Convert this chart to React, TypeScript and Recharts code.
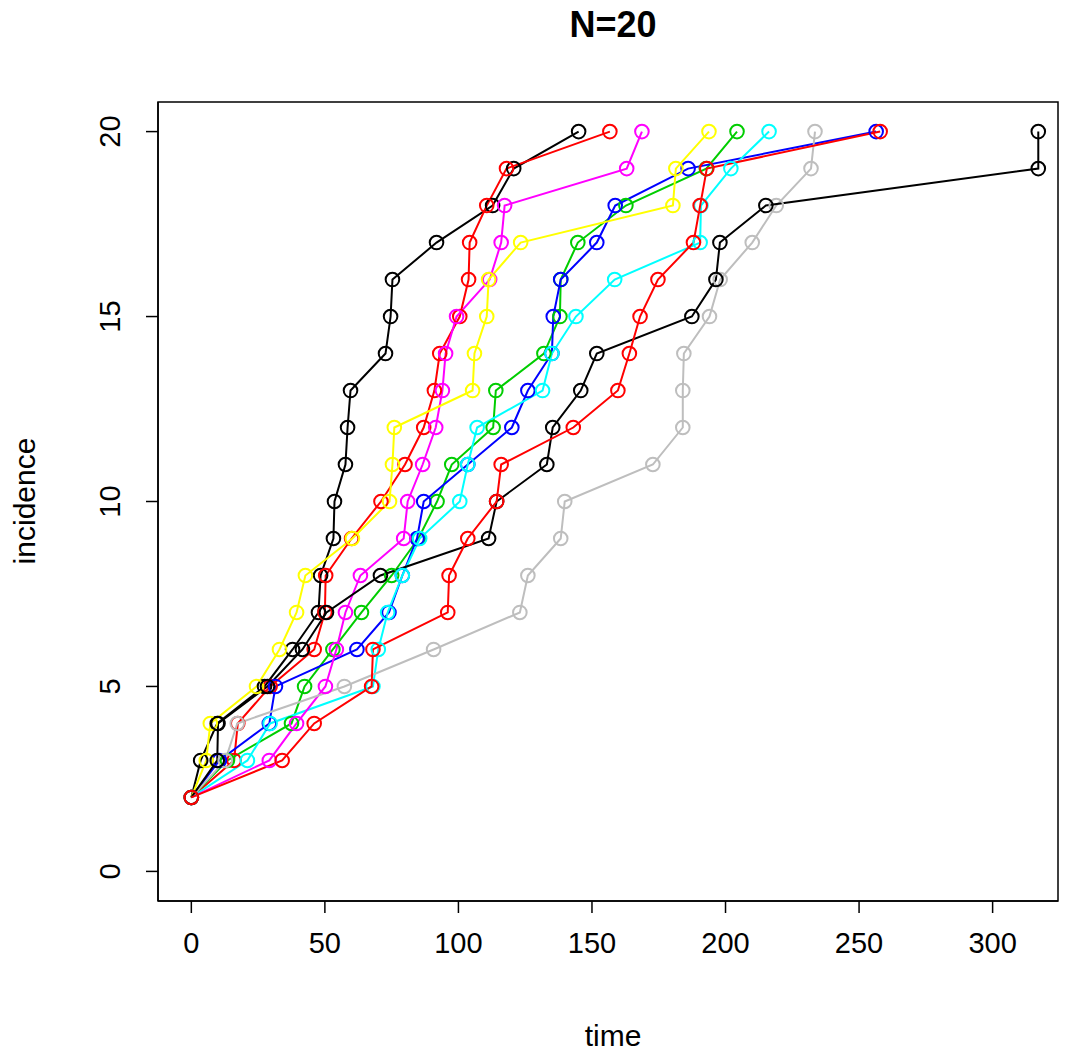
import React from "react";
import { LineChart, Line, XAxis, YAxis, ReferenceArea } from "recharts";

const incidence = [2, 3, 4, 5, 6, 7, 8, 9, 10, 11, 12, 13, 14, 15, 16, 17, 18, 19, 20];

const blackA = [0, 3.5, 9.7, 27.4, 37.9, 47.6, 48.4, 53.2, 53.6, 57.7, 58.5, 59.6, 72.7, 74.6, 75.3, 91.8, 112.8, 120.7, 145.0];
const redA = [0, 16, 17.4, 29.5, 46, 50, 50.3, 60, 71, 80, 87, 91, 93, 100.5, 103.8, 104.2, 110.6, 118, 156.7];
const green = [0, 13.5, 37.5, 42.4, 53, 63.7, 75, 85, 92, 97.5, 113, 114, 132, 138, 138.3, 144.7, 162.7, 192.8, 204.3];
const blue = [0, 10.5, 29.2, 31.5, 62, 74, 79, 84.5, 87, 103.5, 120, 126, 135, 135.5, 138.3, 151.8, 158.7, 186, 256.4];
const cyan = [0, 21, 29.5, 68, 70, 73.5, 79, 85.5, 100.5, 103.5, 107, 131.5, 135, 144, 158.5, 190.5, 190.8, 202, 216.3];
const magenta = [0, 29.2, 39.4, 50.2, 54.3, 57.7, 63.3, 79.5, 81, 86.6, 91.5, 94, 95.2, 99.3, 111.7, 116, 117.3, 163, 168.7];
const yellow = [0, 5.6, 7.1, 24.4, 33, 39.4, 42.7, 60.3, 74.2, 75.3, 76, 105.3, 106, 110.6, 111.3, 123.3, 180.3, 181.4, 193.8];
const gray = [0, 12.7, 17.2, 57.3, 90.7, 123, 126, 138.3, 139.8, 172.8, 184, 184, 184.4, 194, 198, 210, 219, 232, 233.5];
const blackB = [0, 9.7, 10, 28.5, 41.6, 50.6, 70.8, 111.3, 114.3, 133.1, 135.3, 145.8, 151.8, 187.4, 196.4, 197.9, 215.1, 317.1, 317.1];
const redB = [0, 34, 46, 67.5, 68, 96, 96.5, 103.5, 114.3, 116, 143, 159.7, 164, 168, 174.7, 188, 190.5, 193, 257.9];

const seriesTimes = [blackA, redA, green, blue, cyan, magenta, yellow, gray, blackB, redB];
const seriesColors = ["#000000", "#FF0000", "#00CD00", "#0000FF", "#00FFFF", "#FF00FF", "#FFFF00", "#BEBEBE", "#000000", "#FF0000"];

const xTicks = [0, 50, 100, 150, 200, 250, 300];
const yTicks = [0, 5, 10, 15, 20];
const xDomain = [-12.48, 324.48];
const yDomain = [-0.8, 20.8];

const titleText = "N=20";
const xLabel = "time";
const yLabel = "incidence";

const FONT = "'Liberation Sans', Arial, Helvetica, sans-serif";
const TICK_FONT = 29;

const makeSeries = (times: number[]) => times.map((t, i) => ({ t, y: incidence[i] }));

const XTick = (props: any) => {
  const { x, y, payload } = props;
  return (
    <text x={x} y={y} textAnchor="middle" dominantBaseline="central" fontSize={TICK_FONT} fontFamily={FONT} fill="#000">
      {payload.value}
    </text>
  );
};

const YTick = (props: any) => {
  const { x, y, payload } = props;
  return (
    <text
      x={x}
      y={y}
      textAnchor="middle"
      dominantBaseline="central"
      fontSize={TICK_FONT}
      fontFamily={FONT}
      fill="#000"
      transform={`rotate(-90, ${x}, ${y})`}
    >
      {payload.value}
    </text>
  );
};

export default function App() {
  return (
    <div style={{ position: "absolute", left: 0, top: 0, width: 1074, height: 1053, background: "#fff", fontFamily: FONT }}>
      <LineChart width={1074} height={1053} margin={{ top: 102, right: 16, bottom: 92, left: 0 }}>
        <XAxis
          xAxisId={0}
          type="number"
          dataKey="t"
          domain={xDomain}
          allowDataOverflow
          ticks={xTicks}
          interval={0}
          height={60}
          tickSize={12}
          tickMargin={30}
          tick={<XTick />}
          axisLine={{ stroke: "#000", strokeWidth: 1.5 }}
          tickLine={{ stroke: "#000", strokeWidth: 1.5 }}
        />
        <YAxis
          yAxisId={0}
          type="number"
          dataKey="y"
          domain={yDomain}
          allowDataOverflow
          ticks={yTicks}
          interval={0}
          width={158}
          tickSize={12}
          tickMargin={36}
          tick={<YTick />}
          axisLine={{ stroke: "#000", strokeWidth: 1.5 }}
          tickLine={{ stroke: "#000", strokeWidth: 1.5 }}
        />
        <ReferenceArea
          xAxisId={0}
          yAxisId={0}
          x1={xDomain[0]}
          x2={xDomain[1]}
          y1={yDomain[0]}
          y2={yDomain[1]}
          fill="none"
          fillOpacity={0}
          stroke="#000"
          strokeWidth={1.5}
          ifOverflow="visible"
        />
        {seriesTimes.map((times, i) => (
          <Line
            key={i}
            xAxisId={0}
            yAxisId={0}
            data={makeSeries(times)}
            dataKey="y"
            type="linear"
            stroke={seriesColors[i]}
            strokeWidth={2}
            dot={{ r: 6.8, fill: "none", stroke: seriesColors[i], strokeWidth: 2 }}
            isAnimationActive={false}
          />
        ))}
      </LineChart>
      <div style={{ position: "absolute", left: 0, width: 1226, top: 3, textAlign: "center", fontSize: 36, fontWeight: "bold", lineHeight: "44px" }}>
        {titleText}
      </div>
      <div style={{ position: "absolute", left: 0, width: 1226, top: 1016, textAlign: "center", fontSize: 30, lineHeight: "40px" }}>
        {xLabel}
      </div>
      <div
        style={{
          position: "absolute",
          left: 25,
          top: 501,
          fontSize: 30,
          lineHeight: "40px",
          transform: "translate(-50%, -50%) rotate(-90deg)",
          whiteSpace: "nowrap",
        }}
      >
        {yLabel}
      </div>
    </div>
  );
}
